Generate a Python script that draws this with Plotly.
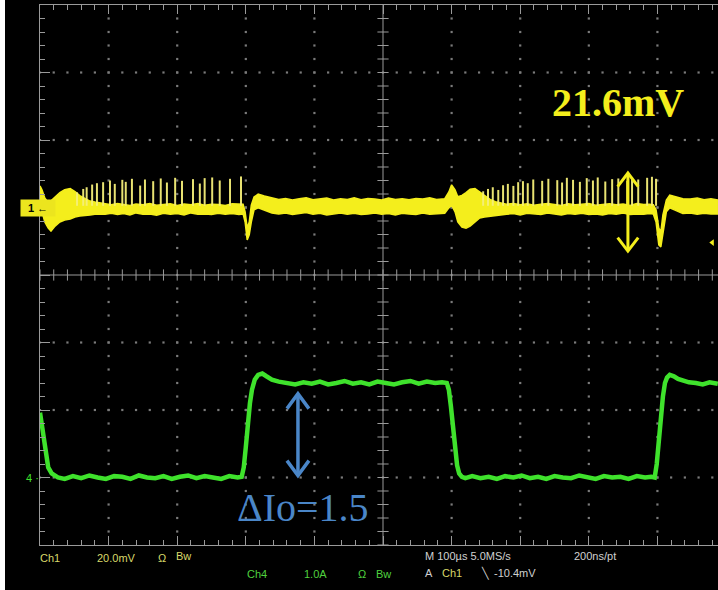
import numpy as np
import plotly.graph_objects as go

# ---------------- scope settings ----------------
CH1_SCALE_MV = 20.0      # mV / div
CH1_OFFSET_DIV = 1.0
CH4_SCALE_A = 1.0        # A / div
CH4_OFFSET_DIV = -3.0
T_VIEW_END = 988.3       # µs visible (screen cropped on the right)
TRIGGER_MV = -10.4
TRIG_POS_US = 507

# ---------------- CH1 (output ripple, mV): envelope of the trace ----------------
ch1_t = [0, 3, 7, 12, 16, 22, 29, 36, 44, 51, 58, 66, 73, 80, 87,
         95, 104, 113, 122, 131, 140, 150, 160, 170, 180, 190, 200, 210, 220, 230, 240, 250, 260, 270, 280, 290,
         296, 299, 302, 305, 308, 312, 318, 327, 338,
         348, 358, 368, 378, 388, 398, 408, 418, 428, 438, 448, 458, 468, 478, 488, 498, 508, 518, 528, 538, 548, 558, 568, 578, 590,
         596, 600, 605, 609, 615, 621, 627, 634, 641, 648, 656, 664, 671,
         680, 690, 700, 710, 720, 730, 740, 750, 760, 770, 780, 790, 800, 810, 820, 830, 840, 850, 860, 870, 880, 888, 894,
         898, 902, 905, 908, 913, 918, 927, 937, 948, 958, 968, 978, 988]
ch1_hi = [6.4, 5.2, 2.8, 1.4, 2.0, 3.2, 4.4, 5.3, 5.6, 4.7, 3.5, 2.6, 1.9, 1.6, 1.4,
          1.1, 0.8, 1.2, 0.9, 0.6, 1.0, 0.8, 1.2, 0.7, 0.9, 1.1, 0.6, 1.0, 0.8, 1.2, 0.7, 1.0, 0.9, 0.6, 1.1, 0.9,
          1.0, -1.3, -6.1, -4.3, 0.7, 3.1, 4.0, 3.4, 2.8,
          2.4, 2.7, 2.2, 2.6, 2.9, 2.3, 2.5, 2.8, 2.2, 2.6, 2.4, 2.9, 2.3, 2.7, 2.5, 2.2, 2.8, 2.4, 2.6, 2.3, 2.7, 2.5, 2.9, 2.4, 2.6,
          4.6, 6.7, 5.2, 3.2, 3.6, 4.4, 5.4, 5.6, 4.6, 3.4, 2.4, 1.7, 1.3,
          1.0, 1.2, 0.8, 1.1, 0.7, 1.0, 1.2, 0.9, 0.6, 1.1, 0.8, 1.0, 1.2, 0.7, 0.9, 1.1, 0.8, 1.0, 0.6, 1.2, 0.9, 1.0, 0.8,
          -0.7, -6.1, -7.3, -2.2, 2.2, 3.7, 3.1, 2.6, 2.5, 2.8, 2.3, 2.6, 2.2]
ch1_lo = [2.2, -1.3, -4.3, -6.1, -7.0, -5.5, -4.3, -3.7, -3.4, -2.8, -2.5, -2.3, -2.2, -2.0, -1.9,
          -2.0, -1.7, -2.1, -1.8, -2.2, -1.6, -2.0, -1.9, -2.3, -1.7, -2.0, -1.8, -2.2, -1.6, -2.0, -1.9, -2.1, -1.7, -2.0, -1.8, -2.1,
          -1.9, -4.3, -9.6, -8.1, -4.3, -0.7, -0.1, -0.7, -1.6,
          -1.9, -1.6, -2.1, -1.8, -1.5, -2.0, -1.7, -2.2, -1.8, -1.6, -2.0, -1.7, -2.1, -1.9, -1.6, -2.0, -1.8, -2.2, -1.7, -1.9, -2.1, -1.6, -2.0, -1.8, -1.7,
          -0.1, 0.7, -1.3, -4.3, -5.8, -6.1, -5.5, -4.3, -3.1, -2.8, -2.5, -2.3, -2.2,
          -2.0, -1.8, -2.2, -1.7, -2.0, -2.1, -1.6, -1.9, -2.2, -1.8, -2.0, -1.7, -2.1, -1.9, -2.2, -1.8, -2.0, -1.6, -2.1, -1.9, -2.0, -1.8, -1.9,
          -4.3, -11.1, -11.7, -7.3, -1.3, -0.1, -1.0, -1.8, -1.6, -2.0, -1.7, -1.9, -1.9]

# switching spikes on CH1 (time µs, peak mV)
spike_t = [54, 63, 68, 76, 83, 92, 102, 109, 120, 125, 134, 146, 153, 165, 176, 185, 197, 207, 223, 233, 240, 251, 262, 277, 293,
           646, 653, 660, 668, 675, 682, 690, 697, 704, 711, 719, 732, 741, 754, 761, 768, 777, 787, 797, 806, 813, 824, 834, 843,
           856, 863, 872, 885, 892, 898]
spike_pk = [4.5, 5.5, 6.0, 6.8, 7.2, 7.5, 8.0, 7.0, 8.2, 7.6, 8.5, 6.5, 8.3, 7.8, 8.6, 7.4, 8.8, 7.9, 8.4, 7.1, 8.7, 8.9, 8.0, 8.5, 9.2,
            4.8, 5.5, 6.0, 5.2, 6.6, 7.0, 6.4, 7.5, 7.8, 7.2, 8.3, 7.9, 8.5, 8.1, 7.4, 8.8, 8.2, 7.6, 8.7, 8.0, 8.9, 7.7, 8.4, 8.6,
            7.9, 9.0, 8.3, 8.8, 9.1, 8.5]

# ---------------- CH4 (load current, A) ----------------
ch4_t = [0, 3, 6, 9, 12, 17, 26, 36, 48, 60, 72, 84, 96, 108, 120, 132, 144, 156, 168, 180,
         192, 204, 216, 228, 240, 252, 264, 276, 288, 294, 297, 300, 303, 306, 309, 313, 318, 324, 330, 338,
         348, 360, 372, 384, 396, 408, 420, 432, 444, 456, 468, 480, 492, 504, 516, 528, 540, 552, 564, 576,
         586, 593, 596, 599, 602, 605, 608, 611, 615, 620, 630, 642, 654, 666, 678, 690, 702, 714, 726, 738,
         750, 762, 774, 786, 798, 810, 822, 834, 846, 858, 870, 882, 891, 896, 899, 902, 905, 908, 911, 914,
         918, 924, 930, 938, 946, 956, 966, 976, 988]
ch4_a = [0.96, 0.74, 0.50, 0.30, 0.15, 0.06, 0.00, -0.02, 0.02, -0.01, 0.03, 0.00, -0.02, 0.02, 0.01, -0.02, 0.03, 0.00, -0.01, 0.02,
         -0.02, 0.01, 0.03, -0.01, 0.02, 0.00, -0.02, 0.02, 0.00, 0.01, 0.15, 0.45, 0.80, 1.10, 1.30, 1.45, 1.52, 1.54, 1.50, 1.45,
         1.42, 1.40, 1.38, 1.41, 1.39, 1.42, 1.38, 1.40, 1.43, 1.39, 1.41, 1.38, 1.42, 1.40, 1.38, 1.41, 1.43, 1.39, 1.42, 1.40,
         1.41, 1.40, 1.30, 1.05, 0.70, 0.40, 0.18, 0.06, 0.01, -0.01, 0.02, -0.01, 0.01, -0.02, 0.02, 0.00, 0.03, -0.01, 0.01, -0.02,
         0.02, 0.00, -0.01, 0.03, 0.01, -0.02, 0.02, 0.00, 0.01, -0.02, 0.02, 0.00, 0.01, 0.00, 0.20, 0.55, 0.90, 1.20, 1.40, 1.48,
         1.52, 1.50, 1.46, 1.43, 1.41, 1.40, 1.38, 1.41, 1.39]

# annotation anchors
ARROW_V_T, ARROW_V_TOP, ARROW_V_BOT = 857, 10.2, -12.9      # µs, mV
ARROW_I_T, ARROW_I_TOP, ARROW_I_BOT = 376, 1.24, 0.03       # µs, A

YELLOW = "#f4ee1c"
GREEN = "#3fe22c"
BLUE = "#4a86c8"
GRID = "#7a7a7a"
AXC = "#9a9a9a"


def ch1_div(v):
    return np.asarray(v, dtype=float) / CH1_SCALE_MV + CH1_OFFSET_DIV


def ch4_div(v):
    return np.asarray(v, dtype=float) / CH4_SCALE_A + CH4_OFFSET_DIV


W, H = 718, 590
ML, MT, MB = 40, 5, 45
PW, PH = W - ML, H - MT - MB


def px(x):
    return (x - ML) / PW


def py(y):
    return (H - MB - y) / PH


fig = go.Figure()

# graticule dots
gx, gy = [], []
for t in range(100, 1000, 100):
    if t == 500:
        continue
    for y in np.arange(-3.8, 3.81, 0.2):
        gx.append(t); gy.append(y)
for y in [-3, -2, -1, 1, 2, 3]:
    for t in np.arange(0, T_VIEW_END, 20):
        gx.append(t); gy.append(y)
fig.add_trace(go.Scatter(x=gx, y=gy, mode="markers", hoverinfo="skip",
                         marker=dict(symbol="square", size=2.2, color=GRID)))

# centre cross with ticks
fig.add_trace(go.Scatter(x=[500, 500, None, 0, T_VIEW_END], y=[-4, 4, None, 0, 0], mode="lines",
                         line=dict(color=AXC, width=1), hoverinfo="skip"))
cy = np.arange(-4, 4.01, 0.2)
fig.add_trace(go.Scatter(x=[500] * len(cy), y=cy, mode="markers", hoverinfo="skip",
                         marker=dict(symbol="line-ew", size=8, line=dict(color=AXC, width=1))))
cx = np.arange(0, T_VIEW_END, 20)
fig.add_trace(go.Scatter(x=cx, y=[0] * len(cx), mode="markers", hoverinfo="skip",
                         marker=dict(symbol="line-ns", size=8, line=dict(color=AXC, width=1))))

# CH4 trace
fig.add_trace(go.Scatter(x=ch4_t, y=ch4_div(ch4_a), mode="lines",
                         line=dict(color=GREEN, width=4.5), hoverinfo="skip"))

# CH1 envelope band
poly_x = list(ch1_t) + list(ch1_t[::-1])
poly_y = list(ch1_div(ch1_hi)) + list(ch1_div(ch1_lo[::-1]))
fig.add_trace(go.Scatter(x=poly_x, y=poly_y, mode="lines", fill="toself", fillcolor=YELLOW,
                         line=dict(color=YELLOW, width=1.5), hoverinfo="skip"))

# CH1 spikes
sx, sy = [], []
for t, p in zip(spike_t, spike_pk):
    sx += [t, t, None]
    sy += [float(ch1_div(0.5)), float(ch1_div(p)), None]
fig.add_trace(go.Scatter(x=sx, y=sy, mode="lines", line=dict(color="rgba(244,238,120,0.95)", width=2),
                         hoverinfo="skip"))

# yellow double arrow
hv, hw = 4.0, 15
vy = [ARROW_V_TOP, ARROW_V_BOT, None, ARROW_V_TOP - hv, ARROW_V_TOP, ARROW_V_TOP - hv, None,
      ARROW_V_BOT + hv, ARROW_V_BOT, ARROW_V_BOT + hv]
vx = [ARROW_V_T, ARROW_V_T, None, ARROW_V_T - hw, ARROW_V_T, ARROW_V_T + hw, None,
      ARROW_V_T - hw, ARROW_V_T, ARROW_V_T + hw]
fig.add_trace(go.Scatter(x=vx, y=[None if v is None else float(ch1_div(v)) for v in vy], mode="lines",
                         line=dict(color=YELLOW, width=3), hoverinfo="skip"))

# blue double arrow
ha, hw2 = 0.22, 16
iy = [ARROW_I_TOP, ARROW_I_BOT, None, ARROW_I_TOP - ha, ARROW_I_TOP, ARROW_I_TOP - ha, None,
      ARROW_I_BOT + ha, ARROW_I_BOT, ARROW_I_BOT + ha]
ix = [ARROW_I_T, ARROW_I_T, None, ARROW_I_T - hw2, ARROW_I_T, ARROW_I_T + hw2, None,
      ARROW_I_T - hw2, ARROW_I_T, ARROW_I_T + hw2]
fig.add_trace(go.Scatter(x=ix, y=[None if v is None else float(ch4_div(v)) for v in iy], mode="lines",
                         line=dict(color=BLUE, width=3.5), hoverinfo="skip"))

# trigger markers
fig.add_trace(go.Scatter(x=[980], y=[float(ch1_div(TRIGGER_MV))], mode="markers", cliponaxis=False,
                         marker=dict(symbol="triangle-left", size=6, color=YELLOW), hoverinfo="skip"))
fig.add_trace(go.Scatter(x=[TRIG_POS_US], y=[4.06], mode="markers", cliponaxis=False,
                         marker=dict(symbol="triangle-down", size=9, color="#e8641e"), hoverinfo="skip"))

ann = []
ann.append(dict(x=842, y=2.56, xref="x", yref="y", text="21.6mV", showarrow=False,
                font=dict(family="Liberation Serif", size=40, color=YELLOW, weight="bold")))
ann.append(dict(x=383, y=-3.44, xref="x", yref="y", text="ΔIo=1.5", showarrow=False,
                font=dict(family="Liberation Serif", size=40, color=BLUE)))
# channel ground markers
ann.append(dict(x=px(20), y=CH1_OFFSET_DIV, xref="paper", yref="y", text="1 ←", showarrow=False,
                bgcolor="#ece51e", width=32, height=14,
                font=dict(family="Liberation Sans", size=11, color="black", weight="bold")))
ann.append(dict(x=px(24), y=CH4_OFFSET_DIV, xref="paper", yref="y", text="4 ·", showarrow=False,
                font=dict(family="Liberation Sans", size=11, color=GREEN)))

SF = "Liberation Sans Narrow, Liberation Sans, sans-serif"
CY1 = "#d8d86a"
CG = "#4fd03f"
CW = "#d0d0d0"
status = [
    (38, 558, "Ch1", CY1), (95, 558, "20.0mV", CY1), (156, 558, "Ω", CY1), (174, 556, "Bw", CY1),
    (245, 574, "Ch4", CG), (302, 574, "1.0A", CG), (356, 574, "Ω", CG), (374, 574, "Bw", CG),
    (423, 556, "M 100µs 5.0MS/s", CW), (572, 556, "200ns/pt", CW),
    (423, 573, "A", CW), (440, 573, "Ch1", CY1), (479, 573, "╲", CW), (492, 573, "-10.4mV", CW),
]
for x, y, s, c in status:
    ann.append(dict(x=px(x), y=py(y), xref="paper", yref="paper", text=s, showarrow=False,
                    xanchor="left", yanchor="middle", font=dict(family=SF, size=11, color=c)))

fig.update_layout(
    width=W, height=H, margin=dict(l=ML, r=0, t=MT, b=MB, pad=0),
    paper_bgcolor="black", plot_bgcolor="black", showlegend=False,
    annotations=ann,
    shapes=[dict(type="rect", xref="paper", yref="paper", x0=px(0), x1=px(5), y0=py(H), y1=py(0),
                 fillcolor="white", line=dict(width=0), layer="above")],
    xaxis=dict(range=[0, T_VIEW_END], showgrid=False, zeroline=False, showticklabels=False,
               showline=True, linecolor=AXC, linewidth=1, mirror="allticks",
               ticks="inside", tick0=0, dtick=100, ticklen=9, tickcolor=AXC,
               minor=dict(ticks="inside", dtick=20, ticklen=5, tickcolor=AXC, showgrid=False),
               fixedrange=True),
    yaxis=dict(range=[-4, 4], showgrid=False, zeroline=False, showticklabels=False,
               showline=True, linecolor=AXC, linewidth=1, mirror=False,
               ticks="inside", tick0=0, dtick=1, ticklen=10, tickcolor=AXC,
               minor=dict(ticks="inside", dtick=0.2, ticklen=5, tickcolor=AXC, showgrid=False),
               fixedrange=True),
)

fig.write_html("out.html", config={"displayModeBar": False},
               post_script="document.body.style.margin='0';document.body.style.overflow='hidden';")
